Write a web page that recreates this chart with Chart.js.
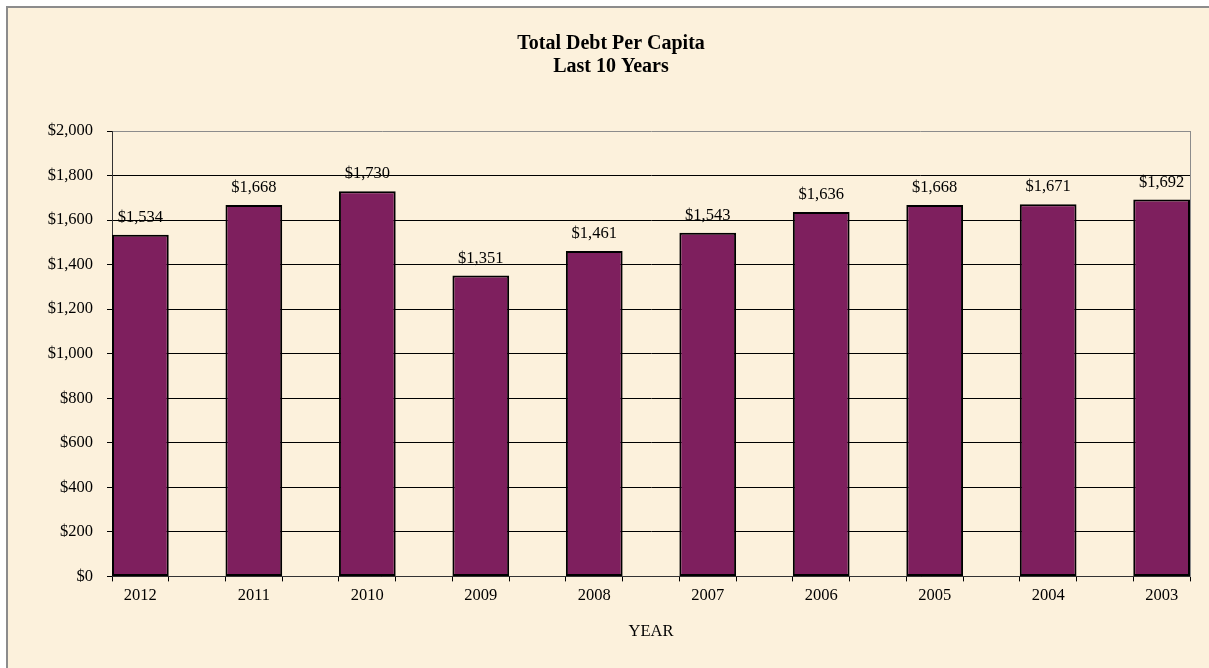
<!DOCTYPE html>
<html>
<head>
<meta charset="utf-8">
<title>Total Debt Per Capita</title>
<script src="https://cdn.jsdelivr.net/npm/chart.js@4.4.1/dist/chart.umd.min.js"></script>
<style>
  html, body { margin: 0; padding: 0; background: #fff; overflow: hidden; }
  #frame {
    position: absolute; left: 6px; top: 6px;
    width: 1300px; height: 800px;
    border: 2px solid #8c8c8c;
    background: #fcf1dc;
  }
  #wrap { position: absolute; left: 0; top: 0; width: 1209px; height: 668px; }
</style>
</head>
<body>
<div id="frame"></div>
<div id="wrap"><canvas id="debtChart"></canvas></div>
<script>
// data
const years = ["2012", "2011", "2010", "2009", "2008", "2007", "2006", "2005", "2004", "2003"];
const debtPerCapita = [1534, 1668, 1730, 1351, 1461, 1543, 1636, 1668, 1671, 1692];
const yTicks = [0, 200, 400, 600, 800, 1000, 1200, 1400, 1600, 1800, 2000];

// bars are as wide as the gaps between them
const barFrac = 0.5;
const xMin = -barFrac / 2;
const xMax = years.length - 1 + barFrac / 2;

const serif = "'Liberation Serif', 'Times New Roman', serif";
const labelFont = { family: serif, size: 16.5 };

const dollars = v => "$" + Number(v).toLocaleString("en-US");

// value labels above every bar
const valueLabels = {
  id: "valueLabels",
  afterDatasetsDraw(chart) {
    const ctx = chart.ctx;
    const meta = chart.getDatasetMeta(0);
    ctx.save();
    ctx.font = "16.5px " + serif;
    ctx.fillStyle = "#000";
    ctx.textAlign = "center";
    ctx.textBaseline = "alphabetic";
    meta.data.forEach((bar, i) => {
      ctx.fillText(dollars(debtPerCapita[i]), bar.x, bar.y - 13);
    });
    ctx.restore();
  }
};

new Chart(document.getElementById("debtChart").getContext("2d"), {
  type: "bar",
  data: {
    datasets: [{
      label: "Total Debt Per Capita",
      data: debtPerCapita.map((v, i) => ({ x: i, y: v })),
      backgroundColor: "#7e1f5e",
      borderColor: "#000",
      borderWidth: 2,
      borderSkipped: false,
      categoryPercentage: 1,
      barPercentage: barFrac
    }]
  },
  options: {
    responsive: true,
    maintainAspectRatio: false,
    animation: false,
    layout: { padding: { left: 32, right: 19, top: 0, bottom: 22 } },
    plugins: {
      legend: { display: false },
      tooltip: { enabled: false },
      title: {
        display: true,
        text: ["Total Debt Per Capita", "Last 10 Years"],
        color: "#000",
        font: { family: serif, size: 20, weight: "bold", lineHeight: 1.15 },
        padding: { top: 32, bottom: 53 }
      }
    },
    scales: {
      x: {
        type: "linear",
        position: "bottom",
        weight: 1,
        offset: false,
        min: xMin,
        max: xMax,
        afterBuildTicks: axis => { axis.ticks = years.map((_, i) => ({ value: i })); },
        grid: { display: false, drawTicks: false, offset: false },
        border: { display: false },
        ticks: {
          callback: v => years[v],
          color: "#000",
          font: labelFont,
          padding: 4,
          maxRotation: 0,
          autoSkip: false
        },
        title: {
          display: true,
          text: "YEAR",
          color: "#000",
          font: labelFont,
          padding: { top: 13, bottom: 4 }
        }
      },
      xEdges: {
        type: "linear",
        position: "bottom",
        display: true,
        weight: 0,
        offset: false,
        min: xMin,
        max: xMax,
        // a tick mark at both edges of every bar
        afterBuildTicks: axis => {
          const edges = [];
          years.forEach((_, i) => {
            edges.push({ value: i - barFrac / 2 });
            edges.push({ value: i + barFrac / 2 });
          });
          axis.ticks = edges;
        },
        grid: { drawOnChartArea: false, drawTicks: true, tickLength: 5, color: "#000", offset: false },
        border: { display: true, color: "#333", width: 1 },
        ticks: { display: false, autoSkip: false },
        afterFit: axis => { axis.height = 5; }
      },
      y: {
        min: 0,
        max: 2000,
        afterBuildTicks: axis => { axis.ticks = yTicks.map(v => ({ value: v })); },
        ticks: {
          callback: v => dollars(v),
          color: "#000",
          font: labelFont,
          padding: 14
        },
        grid: {
          color: ctx => (ctx.tick && ctx.tick.value === 2000 ? "#8c8c8c" : "#000"),
          tickColor: "#000",
          tickLength: 5,
          lineWidth: 1
        },
        border: { display: true, color: "#333", width: 1 },
        afterFit: axis => { axis.width = 80; }
      },
      yRight: {
        position: "right",
        display: true,
        min: 0,
        max: 2000,
        grid: { display: false, drawTicks: false },
        ticks: { display: false },
        border: { display: true, color: "#8c8c8c", width: 1 },
        afterFit: axis => { axis.width = 0; }
      }
    }
  },
  plugins: [valueLabels]
});
</script>
</body>
</html>
